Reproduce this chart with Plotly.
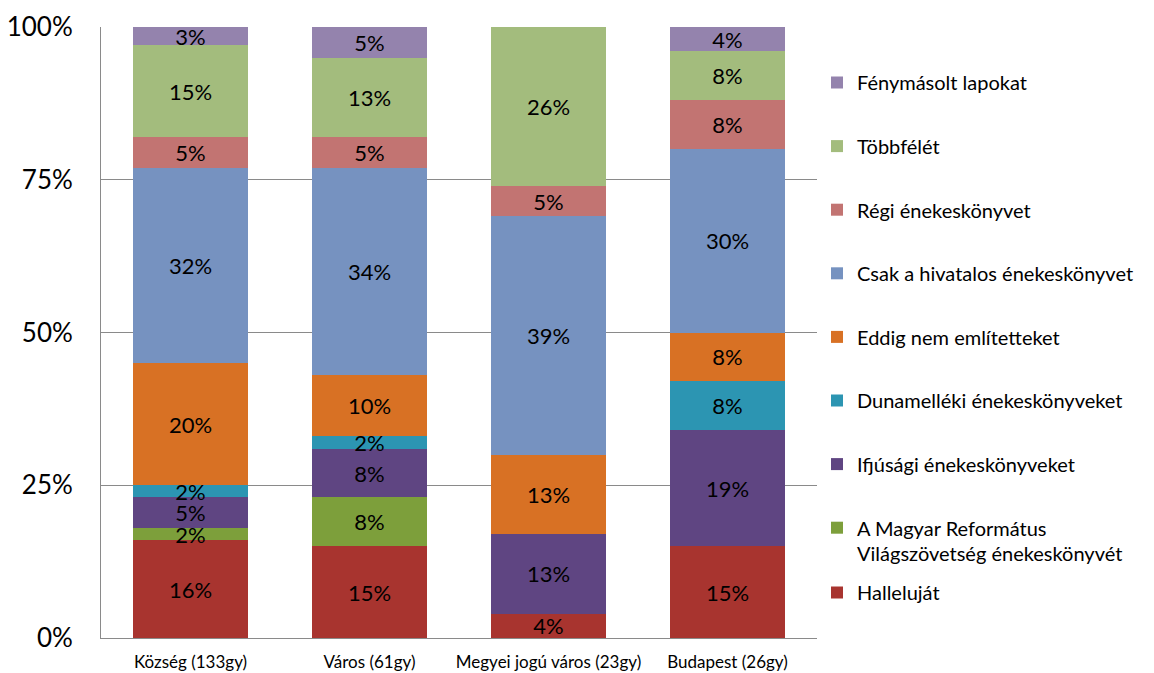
import plotly.graph_objects as go

categories = ["Község (133gy)", "Város (61gy)", "Megyei jogú város (23gy)", "Budapest (26gy)"]

series_names = [
    "Halleluját",
    "A Magyar Református<br>Világszövetség énekeskönyvét",
    "Ifjúsági énekeskönyveket",
    "Dunamelléki énekeskönyveket",
    "Eddig nem említetteket",
    "Csak a hivatalos énekeskönyvet",
    "Régi énekeskönyvet",
    "Többfélét",
    "Fénymásolt lapokat",
]

halleluja = [16, 15, 4, 15]
mrv = [2, 8, 0, 0]
ifjusagi = [5, 8, 13, 19]
dunamelleki = [2, 2, 0, 8]
eddig_nem = [20, 10, 13, 8]
csak_hivatalos = [32, 34, 39, 30]
regi = [5, 5, 5, 8]
tobbfele = [15, 13, 26, 8]
fenymasolt = [3, 5, 0, 4]

series_values = [halleluja, mrv, ifjusagi, dunamelleki, eddig_nem,
                 csak_hivatalos, regi, tobbfele, fenymasolt]

colors = ["#a8342f", "#7d9f3b", "#5f4582", "#2c95b2", "#d87124",
          "#7692c0", "#c27472", "#a3bc7d", "#9483ad"]

y_ticks = [0, 25, 50, 75, 100]
y_tick_labels = ["0%", "25%", "50%", "75%", "100%"]

FONT = "Lato"
W, H = 1146, 665  # page body has an 8px margin

fig = go.Figure()
for i, (name, vals, col) in enumerate(zip(series_names, series_values, colors)):
    fig.add_trace(go.Bar(
        x=categories,
        y=vals,
        name=name,
        marker=dict(color=col, line=dict(width=0)),
        text=[f"{v}%" if v > 0 else "" for v in vals],
        textposition="inside",
        insidetextanchor="middle",
        textangle=0,
        constraintext="none",
        textfont=dict(family=FONT, size=22, color="black"),
        legendgroup=f"g{i}",
        legendrank=1000 - i,
        legend="legend2" if i == 0 else "legend",
        hoverinfo="name+y",
    ))

fig.update_layout(
    barmode="stack",
    bargap=0.36,
    width=W,
    height=H,
    margin=dict(l=93, r=337, t=19, b=35, autoexpand=False),
    paper_bgcolor="white",
    plot_bgcolor="white",
    font=dict(family=FONT, color="black"),
    xaxis=dict(
        showline=True, linecolor="#8a8a8a", linewidth=1,
        tickfont=dict(family=FONT, size=17, color="black"),
        ticks="", showgrid=False, ticklabelstandoff=9,
        automargin=False,
    ),
    yaxis=dict(
        range=[0, 100],
        tickvals=y_ticks,
        ticktext=y_tick_labels,
        tickfont=dict(family=FONT, size=26, color="black"),
        showline=True, linecolor="#8a8a8a", linewidth=1,
        showgrid=True, gridcolor="#8a8a8a", gridwidth=1,
        ticks="", ticklabelstandoff=22,
        zeroline=False, automargin=False,
    ),
    legend=dict(
        xref="container", yref="container",
        x=809 / W, y=1 - 55 / H,
        xanchor="left", yanchor="top",
        traceorder="grouped",
        tracegroupgap=34.6,
        valign="top",
        maxheight=700,
        font=dict(family=FONT, size=20, color="black"),
        bgcolor="rgba(0,0,0,0)",
    ),
    legend2=dict(
        xref="container", yref="container",
        x=809 / W, y=1 - 565 / H,
        xanchor="left", yanchor="top",
        font=dict(family=FONT, size=20, color="black"),
        bgcolor="rgba(0,0,0,0)",
    ),
    showlegend=True,
)

fig.write_html("out.html")
